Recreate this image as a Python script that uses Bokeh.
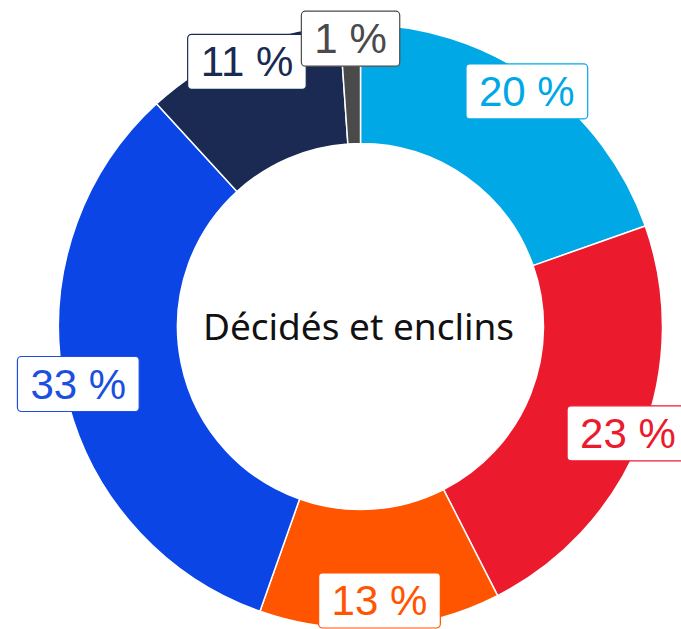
import math
from bokeh.plotting import figure
from bokeh.models import ColumnDataSource, Range1d
from bokeh.core.properties import value
from bokeh.embed import file_html
from bokeh.resources import INLINE

# ---- data (clockwise from 12 o'clock) ----
parties = ["Cyan", "Rouge", "Orange", "Bleu", "Marine", "Autre"]
shares = [19.6, 22.9, 12.9, 32.8, 10.7, 1.1]
colors = ["#00A8E6", "#EB1A2D", "#FF5500", "#0B45E6", "#1A2A52", "#4A4A4A"]
label_colors = ["#00A8E6", "#EB1A2D", "#FF5500", "#1A4FE0", "#1A2A52", "#4A4A4A"]
center_title = "Décidés et enclins"

W, H = 681, 629
CX, CY = 360, H - 326
R_OUT, R_IN, R_LAB = 302, 183, 288
LAB_MARGIN = 29  # keep label text inside the window

total = sum(shares)
starts, ends, lx, ly, labels = [], [], [], [], []
acc = 0.0
for v in shares:
    t1 = acc / total * 2 * math.pi
    acc += v
    t2 = acc / total * 2 * math.pi
    # bokeh angles: anticlockwise from +x
    starts.append(math.pi / 2 - t2)
    ends.append(math.pi / 2 - t1)
    mid = (t1 + t2) / 2
    lx.append(CX + R_LAB * math.sin(mid))
    ly.append(min(max(CY + R_LAB * math.cos(mid), LAB_MARGIN), H - LAB_MARGIN))
    labels.append(f"{round(v)} %")

src = ColumnDataSource(dict(party=parties, start=starts, end=ends, color=colors,
                            lx=lx, ly=ly, label=labels, lcolor=label_colors))

p = figure(width=W, height=H, output_backend="svg", toolbar_location=None,
           x_range=Range1d(0, W), y_range=Range1d(0, H), min_border=0)
p.axis.visible = False
p.grid.visible = False
p.outline_line_color = None
p.background_fill_color = "white"
p.border_fill_color = "white"

p.annular_wedge(x=CX, y=CY, inner_radius=R_IN, outer_radius=R_OUT,
                start_angle="start", end_angle="end", direction="anticlock",
                fill_color="color", line_color="white", line_width=1.5, source=src)

p.text(x=[CX - 2], y=[H - 325], text=[center_title], text_font=value("Noto Sans"),
       text_font_size="37px", text_color="#111111", text_align="center",
       text_baseline="middle")

p.text(x="lx", y="ly", text="label", source=src, text_font=value("Liberation Sans"),
       text_font_size="42px", text_color="lcolor", text_align="center",
       text_baseline="middle", background_fill_color="white",
       border_line_color="lcolor", border_line_width=1.2,
       padding=(13, 4), border_radius=4)

open("out.html", "w").write(file_html(p, INLINE))
